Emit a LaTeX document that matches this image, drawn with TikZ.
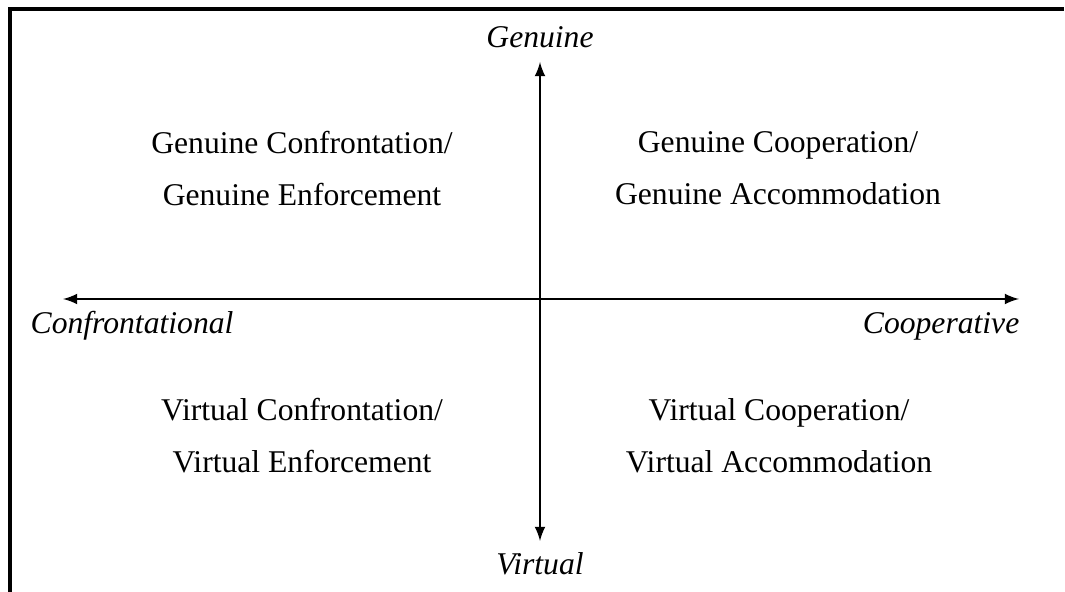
\documentclass[tikz,border=0pt]{standalone}
\usepackage{fontspec}
\setmainfont{Liberation Serif}
\usepackage{tikz}

\begin{document}
\begin{tikzpicture}[
        quad/.style = {align=center, font=\fontsize{9}{14.8}\selectfont},
        axislabel/.style = {font=\fontsize{9}{11}\selectfont\itshape, inner sep=0pt},
        axisline/.style = {black, line width=0.4pt, latex-latex}
    ]
            \useasboundingbox (0, 0) rectangle (10.65, 5.92);
            \draw[black, line width=1.15pt] (0.10, 0) -- (0.10, 5.83) -- (10.64, 5.83);

            \coordinate (left) at (0.63, 2.93);
            \coordinate (right) at (10.19, 2.93);
            \coordinate (top) at (5.40, 5.30);
            \coordinate (bottom) at (5.40, 0.51);
            \draw[axisline] (left) -- (right);
            \draw[axisline] (bottom) -- (top);

            \node[axislabel] (genuine) at (5.40, 5.55) {Genuine};
            \node[axislabel] (virtual) at (5.40, 0.28) {Virtual};
            \node[axislabel, anchor=west] (confront) at (0.30, 2.66) {Confrontational};
            \node[axislabel, anchor=east] (coop) at (10.20, 2.66) {Cooperative};

            \node[quad] (gconf) at (3.02, 4.23) {Genuine Confrontation/\\Genuine Enforcement};
            \node[quad] (gcoop) at (7.78, 4.24) {Genuine Cooperation/\\Genuine Accommodation};
            \node[quad] (vconf) at (3.02, 1.56) {Virtual Confrontation/\\Virtual Enforcement};
            \node[quad] (vcoop) at (7.79, 1.56) {Virtual Cooperation/\\Virtual Accommodation};
        \end{tikzpicture}
\end{document}
